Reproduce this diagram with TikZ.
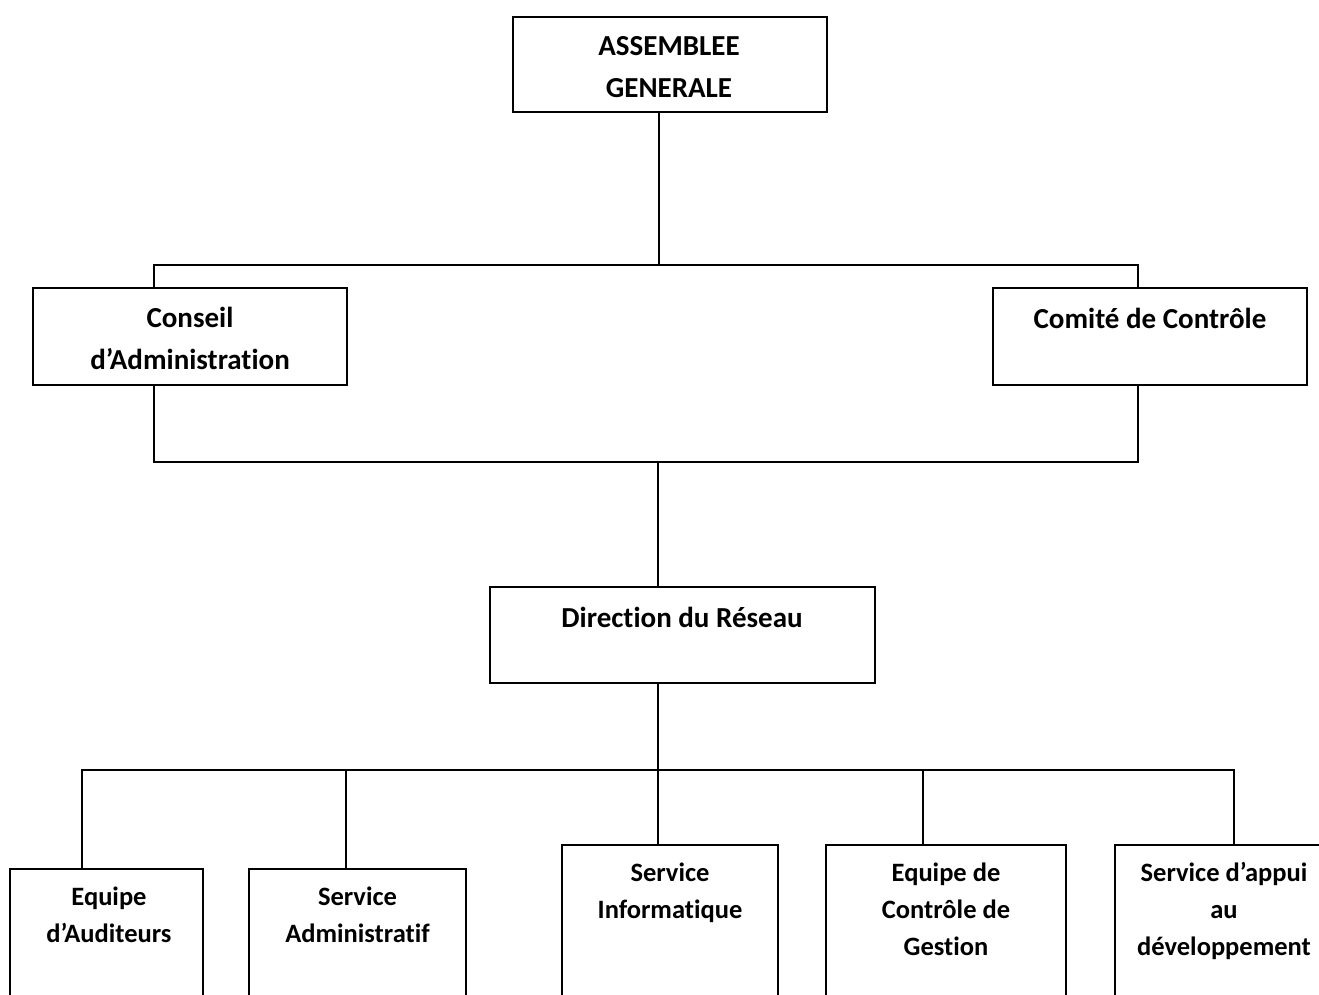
\documentclass[tikz,border=0pt]{standalone}
\usepackage{fontspec}
\setmainfont{Carlito}[Ligatures=NoCommon]
\begin{document}
\begin{tikzpicture}[x=1pt,y=-1pt,
  box/.style={draw, line width=1.5pt, inner sep=0pt, outer sep=0pt},
  link/.style={line width=1.5pt, line join=miter},
  toptext/.style={font=\bfseries\fontsize{29}{42}\selectfont, align=center, anchor=north, inner sep=0pt},
  bottext/.style={font=\bfseries\fontsize{26.5}{37}\selectfont, align=center, anchor=north, inner sep=0pt}]
\useasboundingbox (0,0) rectangle (1319,994);
\clip (0,0) rectangle (1319,994);

% boxes
\node[box, minimum width=314pt, minimum height=95pt] (ag) at (670,64.5) {};
\node[box, minimum width=314pt, minimum height=97pt] (ca) at (190,336.5) {};
\node[box, minimum width=314pt, minimum height=97pt] (cc) at (1150,336.5) {};
\node[box, minimum width=385pt, minimum height=96pt] (dr) at (682.5,635) {};
\node[box, minimum width=193pt, minimum height=200pt] (b1) at (106.5,969) {};
\node[box, minimum width=217pt, minimum height=200pt] (b2) at (357.5,969) {};
\node[box, minimum width=216pt, minimum height=200pt] (b3) at (670,945) {};
\node[box, minimum width=240pt, minimum height=200pt] (b4) at (946,945) {};
\node[box, minimum width=215pt, minimum height=200pt] (b5) at (1222.5,945) {};

% texts
\node[toptext] (agt) at (669,25.9) {\strut ASSEMBLEE\\\strut GENERALE};
\node[toptext] (cat) at (190,297.9) {\strut Conseil\\\strut d’Administration};
\node[toptext] (cct) at (1150,298.9) {\strut Comité de Contrôle};
\node[toptext] (drt) at (682,597.9) {\strut Direction du Réseau};
\node[bottext] (b1t) at (109,879.6) {\strut Equipe\\\strut d’Auditeurs};
\node[bottext] (b2t) at (357.5,879.6) {\strut Service\\\strut Administratif};
\node[bottext] (b3t) at (670,855.6) {\strut Service\\\strut Informatique};
\node[bottext] (b4t) at (946,855.6) {\strut Equipe de\\\strut Contrôle de\\\strut Gestion};
\node[bottext] (b5t) at (1224,855.6) {\strut Service d’appui\\\strut au\\\strut développement};

% junctions
\coordinate (j0) at (659,265);
\coordinate (jl) at (154,265);
\coordinate (jr) at (1138,265);
\coordinate (k0) at (658,462);
\coordinate (kl) at (154,462);
\coordinate (kr) at (1138,462);
\coordinate (m0) at (658,770);
\coordinate (m1) at (82,770);
\coordinate (m2) at (346,770);
\coordinate (m4) at (923,770);
\coordinate (m5) at (1234,770);

% connectors
\draw[link] (ag.south -| j0) -- (j0);
\draw[link] (ca.north -| jl) -- (jl) -- (jr) -- (cc.north -| jr);
\draw[link] (ca.south -| kl) -- (kl) -- (kr) -- (cc.south -| kr);
\draw[link] (k0) -- (dr.north -| k0);
\draw[link] (dr.south -| m0) -- (m0);
\draw[link] (b1.north -| m1) -- (m1) -- (m5) -- (b5.north -| m5);
\draw[link] (m2) -- (b2.north -| m2);
\draw[link] (m0) -- (b3.north -| m0);
\draw[link] (m4) -- (b4.north -| m4);
\end{tikzpicture}
\end{document}
